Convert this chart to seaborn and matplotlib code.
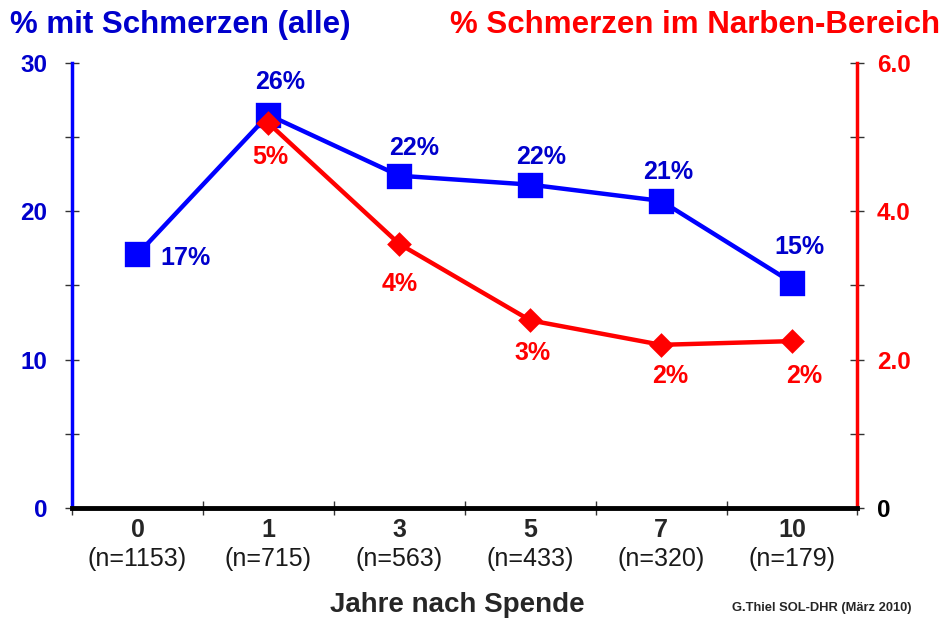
import numpy as np
import pandas as pd
import seaborn as sns
from matplotlib import pyplot as plt
from matplotlib.ticker import FixedLocator
from matplotlib import transforms

# data
years = ["0", "1", "3", "5", "7", "10"]
n_donors = [1153, 715, 563, 433, 320, 179]
pain_all = [17.1, 26.5, 22.4, 21.8, 20.7, 15.2]      # left axis, %
pain_scar = [5.19, 3.56, 2.53, 2.20, 2.25]            # right axis, % (from year 1)
scar_years = ["1", "3", "5", "7", "10"]

BLUE = "#0000FF"
DBLUE = "#0000CC"
RED = "#FF0000"

sns.set_style("white")
plt.rcParams['font.family'] = ['Liberation Sans', 'DejaVu Sans']

df_all = pd.DataFrame({"Jahr": years, "Wert": pain_all})
df_scar = pd.DataFrame({"Jahr": scar_years, "Wert": pain_scar})

fig = plt.figure(figsize=(9.44, 6.23), dpi=100)
ax = fig.add_axes([0.0763, 0.1846, 0.832, 0.7143])
ax2 = ax.twinx()

sns.pointplot(data=df_all, x="Jahr", y="Wert", order=years, ax=ax,
              color=BLUE, markers="s", markersize=16, linewidth=3.2,
              errorbar=None)
sns.pointplot(data=df_scar, x="Jahr", y="Wert", order=years, ax=ax2,
              color=RED, markers="D", markersize=10, linewidth=3.2,
              errorbar=None)
ax2.set_zorder(ax.get_zorder() + 1)
ax2.patch.set_visible(False)

ax.set_xlim(-0.5, len(years) - 0.5)
ax.set_ylim(0, 30)
ax2.set_ylim(0, 6)

# spines
for a in (ax, ax2):
    for s in a.spines.values():
        s.set_visible(False)
ax.spines['left'].set_visible(True)
ax.spines['left'].set_color(BLUE)
ax.spines['left'].set_linewidth(2.5)
ax2.spines['right'].set_visible(True)
ax2.spines['right'].set_color(RED)
ax2.spines['right'].set_linewidth(2.5)
ax2.spines['bottom'].set_visible(True)
ax2.spines['bottom'].set_color("black")
ax2.spines['bottom'].set_linewidth(3.5)

# y ticks
ax.set_yticks([0, 10, 20, 30])
ax.yaxis.set_minor_locator(FixedLocator([5, 15, 25]))
ax.set_yticklabels(["0", "10", "20", "30"], fontsize=17.5, fontweight="bold",
                   color=DBLUE)
ax.tick_params(axis="y", which="both", direction="inout", length=10,
               width=1, color="#333333", pad=13, left=True)
ax.set_ylabel("")

ax2.set_yticks([0, 2, 4, 6])
ax2.yaxis.set_minor_locator(FixedLocator([1, 3, 5]))
ax2.set_yticklabels(["0", "2.0", "4.0", "6.0"], fontsize=17.5,
                    fontweight="bold")
for lbl, c in zip(ax2.get_yticklabels(), ["black", RED, RED, RED]):
    lbl.set_color(c)
ax2.tick_params(axis="y", which="both", direction="inout", length=10,
                width=1, color="#333333", pad=9, right=True)
ax2.set_ylabel("")

# x ticks: bold year labels, separators between categories
ax.set_xticks(range(len(years)))
ax.set_xticklabels(years, fontsize=18, fontweight="bold")
ax.tick_params(axis="x", which="major", length=0, pad=7)
ax.xaxis.set_minor_locator(FixedLocator(np.arange(-0.5, len(years), 1)))
ax.tick_params(axis="x", which="minor", direction="inout", length=10,
               width=1, color="#333333", bottom=True)
ax2.tick_params(axis="x", which="both", length=0)
ax.set_xlabel("")
ax2.set_xlabel("")

trans = transforms.blended_transform_factory(ax.transData, fig.transFigure)
for i, n in enumerate(n_donors):
    ax.text(i, 1 - 559 / 623, f"(n={n})", transform=trans, ha="center",
            va="center", fontsize=18, color="#1a1a1a")

# value labels (offsets in pixels)
blue_off = [(48, -4), (12, 33), (15, 28), (11, 28), (7, 29), (7, 36)]
for i, (v, off) in enumerate(zip(pain_all, blue_off)):
    ax.annotate(f"{v:.0f}%", (i, v), xytext=off, textcoords="offset pixels",
                ha="center", va="center", fontsize=18, fontweight="bold",
                color=DBLUE)
red_off = [(2, -34), (0, -40), (2, -33), (9, -31), (12, -35)]
for yr, v, off in zip(scar_years, pain_scar, red_off):
    ax2.annotate(f"{v:.0f}%", (years.index(yr), v), xytext=off,
                 textcoords="offset pixels", ha="center", va="center",
                 fontsize=18, fontweight="bold", color=RED)

# titles and footer
fig.text(10 / 944, 1 - 25 / 623, "% mit Schmerzen (alle)", ha="left",
         va="center", fontsize=22.5, fontweight="bold", color=DBLUE)
fig.text(940 / 944, 1 - 25 / 623, "% Schmerzen im Narben-Bereich",
         ha="right", va="center", fontsize=22.5, fontweight="bold", color=RED)
fig.text(457 / 944, 1 - 605 / 623, "Jahre nach Spende", ha="center",
         va="center", fontsize=20, fontweight="bold")
fig.text(912 / 944, 1 - 608 / 623, "G.Thiel SOL-DHR (März 2010)",
         ha="right", va="center", fontsize=9.3, fontweight="bold")

fig.savefig("out.png", dpi=100)
